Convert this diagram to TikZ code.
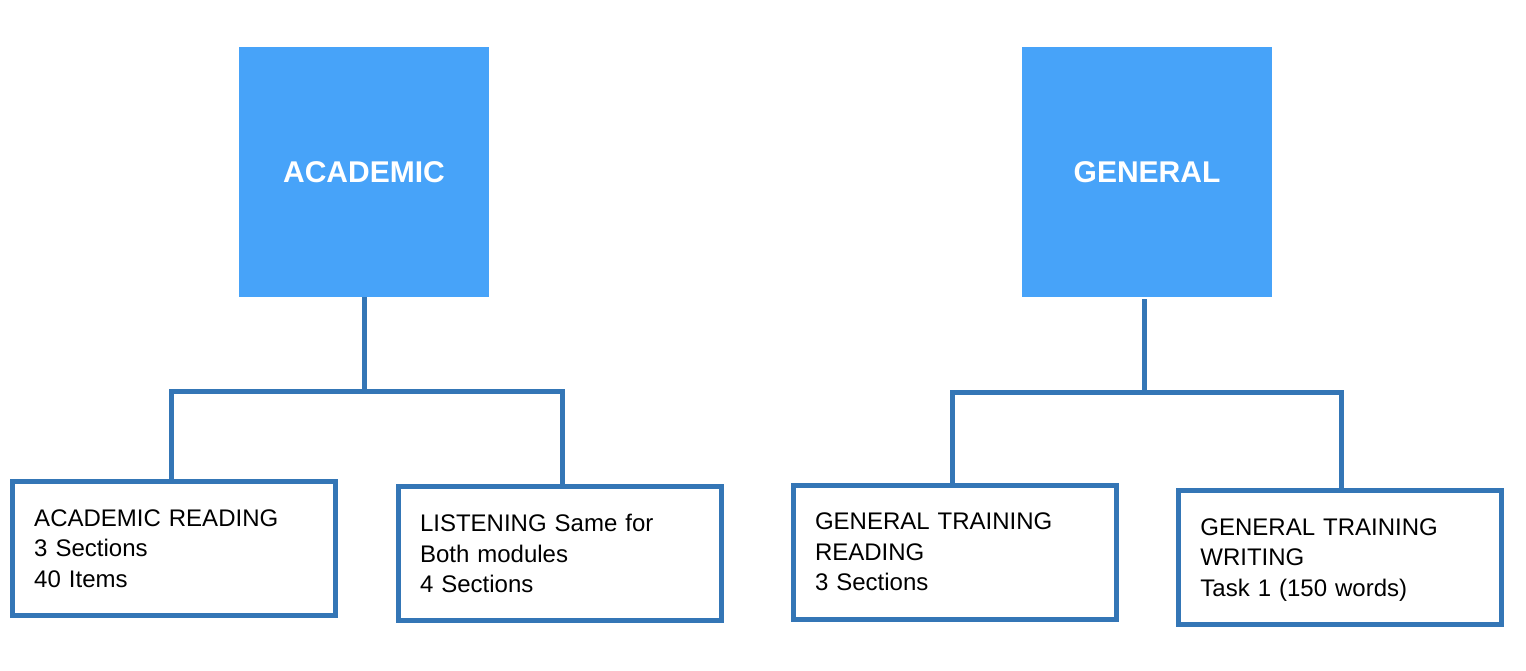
\documentclass[tikz,border=0pt]{standalone}
\usepackage{fontspec}
\setmainfont{Liberation Sans}
\definecolor{boxfill}{RGB}{71,163,249}
\definecolor{linec}{RGB}{52,118,182}
\begin{document}
\begin{tikzpicture}[x=1pt,y=-1pt,
  head/.style={fill=boxfill, minimum width=250pt, minimum height=250pt, inner sep=0pt,
    text=white, font=\bfseries\fontsize{30}{36}\selectfont},
  leaf/.style={draw=linec, line width=5pt, fill=white, minimum width=323pt, minimum height=134pt,
    inner xsep=22pt, inner ysep=0pt, text width=279pt, align=left,
    font=\fontsize{24}{30.5}\selectfont},
  conn/.style={draw=linec, line width=5pt}]
\useasboundingbox (0,0) rectangle (1526,670);
\node[head] (acad) at (364,171.7) {ACADEMIC};
\node[head] (gen) at (1147,171.7) {GENERAL};
\node[leaf] (ar) at (173.75,548.7) {ACADEMIC READING\\3 Sections\\40 Items};
\node[leaf] (lis) at (559.5,553.9) {LISTENING Same for\\Both modules\\4 Sections};
\node[leaf] (gtr) at (954.5,552) {GENERAL TRAINING\\READING\\3 Sections};
\node[leaf] (gtw) at (1339.9,557) {\rule{0pt}{22.5pt}GENERAL TRAINING\\WRITING\\Task 1 (150 words)};
\draw[conn] (acad.south) -- ++(0,94.3) coordinate (ja);
\draw[conn] ([xshift=-2.25pt]ar.north) |- (ja) -| ([xshift=3pt]lis.north);
\draw[conn] ([xshift=-2.7pt,yshift=-2.3pt]gen.south) -- ++(0,93.3) coordinate (jg);
\draw[conn] ([xshift=-2.5pt]gtr.north) |- (jg) -| ([xshift=2pt]gtw.north);
\end{tikzpicture}
\end{document}
